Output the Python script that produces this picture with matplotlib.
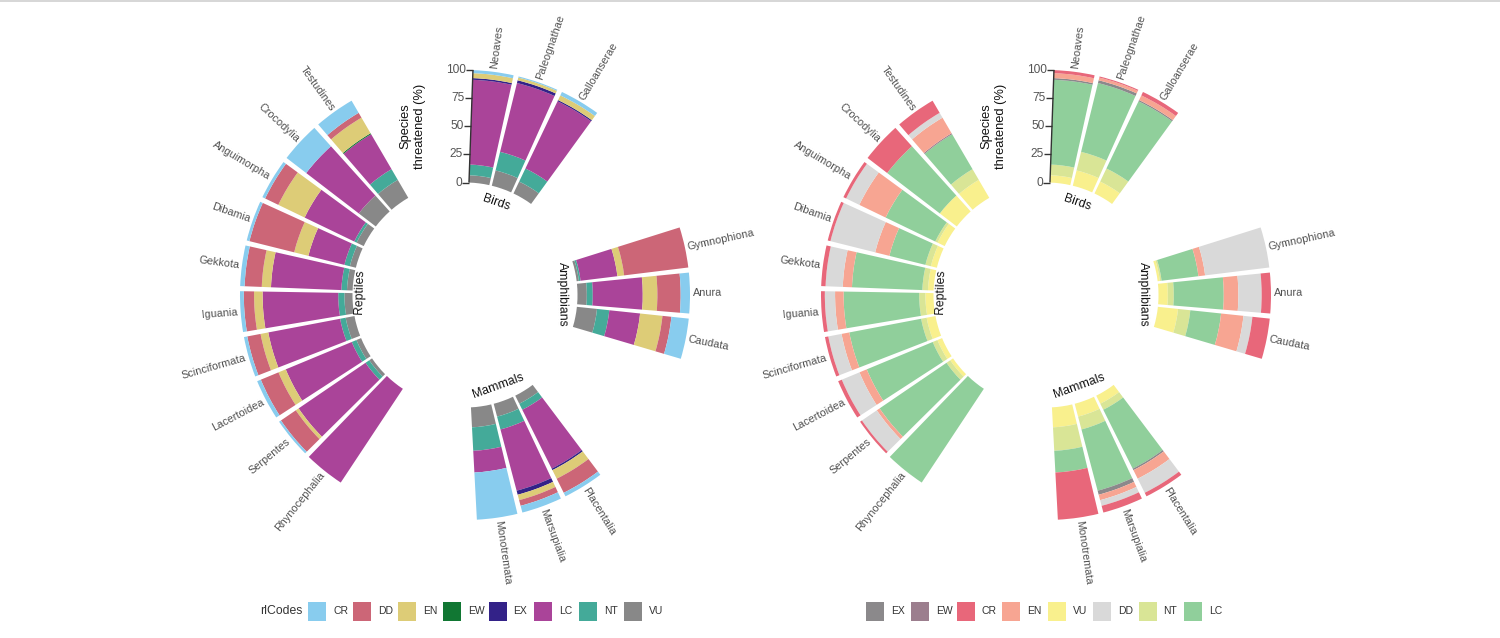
import numpy as np
import matplotlib
matplotlib.use('Agg')
import matplotlib.pyplot as plt
from matplotlib.patches import Rectangle
from matplotlib.lines import Line2D

plt.rcParams['font.family'] = ['Liberation Sans', 'DejaVu Sans']

# ---------------- data ----------------
groups = ['Birds', 'Amphibians', 'Mammals', 'Reptiles']
group_sizes = [3, 3, 3, 10]
taxa = ['Neoaves', 'Paleognathae', 'Galloanserae',
        'Gymnophiona', 'Anura', 'Caudata',
        'Placentalia', 'Marsupialia', 'Monotremata',
        'Rhynocephalia', 'Serpentes', 'Lacertoidea', 'Scinciformata', 'Iguania',
        'Gekkota', 'Dibamia', 'Anguimorpha', 'Crocodylia', 'Testudines']

# percent of species per Red List code (stacked inner -> outer)
VU = [6.5, 14, 11.7, 2, 8.3, 18, 8, 11.8, 17.8, 0, 3, 4.5, 8, 7.2, 5, 5.5, 7, 19, 18.5]
NT = [9.5, 17, 12.9, 1.5, 5.3, 11, 6, 11.8, 20.9, 0, 4, 4.5, 5, 5.5, 5, 5, 2.3, 0, 11]
LC = [75.4, 63, 66.2, 33, 44.4, 27.5, 58.5, 56.3, 19.3, 100, 72, 63.5, 65, 67.2, 62.6, 33, 49, 59, 36]
EX = [1.5, 2.5, 1.2, 0, 0, 0, 1.5, 3.7, 0, 0, 0, 0, 0, 0, 0, 0, 0, 0, 0]
EW = [0, 0, 0, 0, 0, 0, 0, 0, 0, 0, 0, 0, 0, 0, 0, 0, 0, 0, 1]
EN = [4.4, 2.5, 4.6, 6, 13, 20, 8.5, 5, 0, 0, 3, 7, 7, 7.6, 8.2, 13, 26, 0, 16]
DD = [0, 0, 0, 57.5, 20.7, 8, 14, 5.2, 0, 0, 16, 17, 12, 9.1, 15.3, 41, 13, 0, 5]
CR = [2.7, 1, 3.4, 0, 8.3, 15.5, 3.5, 6.2, 42, 0, 2, 3.5, 3, 3.4, 3.9, 2.5, 2.7, 22, 12.5]

stack_codes = ['VU', 'NT', 'LC', 'EX', 'EW', 'EN', 'DD', 'CR']
series = {'VU': VU, 'NT': NT, 'LC': LC, 'EX': EX, 'EW': EW, 'EN': EN, 'DD': DD, 'CR': CR}

left_legend = ['CR', 'DD', 'EN', 'EW', 'EX', 'LC', 'NT', 'VU']
right_legend = ['EX', 'EW', 'CR', 'EN', 'VU', 'DD', 'NT', 'LC']
pal_left = {'CR': '#88CCEE', 'DD': '#CC6677', 'EN': '#DDCC77', 'EW': '#117733',
            'EX': '#332288', 'LC': '#AA4499', 'NT': '#44AA99', 'VU': '#888888'}
pal_right = {'EX': '#8B898B', 'EW': '#9C7E8E', 'CR': '#E8677A', 'EN': '#F7A592',
             'VU': '#F9F08D', 'DD': '#D9D9D9', 'NT': '#D9E596', 'LC': '#90CF9B'}
axis_ticks = [0, 25, 50, 75, 100]

# ---------------- layout ----------------
W, H = 1500, 638
R_PX = 225
STEP = np.radians(11.75)
START = np.radians(1.375)
GAP = np.radians(1.3)
GROUP_PAD = 3

fig = plt.figure(figsize=(W / 100, H / 100), dpi=100)
fig.patch.set_facecolor('white')

# slot index of each taxon
slots = []
grp_of = []
k = 0
for gi, n in enumerate(group_sizes):
    for j in range(n):
        slots.append(k)
        grp_of.append(gi)
        k += 1
    k += GROUP_PAD
slots = np.array(slots)
grp_of = np.array(grp_of)
theta = START + (slots + 0.5) * STEP


def draw_panel(cx, cy, pal):
    ax = fig.add_axes([(cx - R_PX) / W, (H - cy - R_PX) / H, 2 * R_PX / W, 2 * R_PX / H],
                      projection='polar')
    ax.set_theta_zero_location('N')
    ax.set_theta_direction(-1)
    ax.set_ylim(0, 100)
    ax.set_rorigin(-100)
    ax.axis('off')

    bottom = np.zeros(len(taxa))
    for code in stack_codes:
        vals = np.array(series[code], dtype=float)
        ax.bar(theta, vals, width=STEP - GAP, bottom=bottom, color=pal[code],
               edgecolor='none', linewidth=0, align='center', clip_on=False)
        bottom += vals

    # taxon labels
    for t, name in zip(theta, taxa):
        deg = np.degrees(t)
        if deg < 180:
            rot, ha = 90 - deg, 'left'
        else:
            rot, ha = 270 - deg, 'right'
        ax.text(t, 102.5, name, rotation=rot, rotation_mode='anchor', ha=ha, va='center',
                fontsize=7.8, color='#505050')

    # group labels
    for gi, g in enumerate(groups):
        t = theta[grp_of == gi].mean()
        deg = np.degrees(t)
        rot = -deg
        while rot <= -90:
            rot += 180
        while rot > 90:
            rot -= 180
        r = -13.7 if deg < 180 else -6.6
        ax.text(t, r, g, rotation=rot, rotation_mode='anchor', ha='center', va='center',
                fontsize=8.8, color='#111111')

    # radial axis on the first bar
    ta = START + GAP / 2
    ax.plot([ta, ta], [0, 100], color='#333333', lw=1, clip_on=False, solid_capstyle='butt')
    ax.plot([ta] * len(axis_ticks), axis_ticks, linestyle='none', marker=0, markersize=5,
            markeredgewidth=1, color='#333333', clip_on=False)
    for v in axis_ticks:
        ax.annotate(str(v), (ta, v), xytext=(-7, 0), textcoords='offset pixels',
                    ha='right', va='center', fontsize=8.6, color='#555555')
    ax.annotate('Species\nthreatened (%)', (ta, 50), xytext=(-58, 0), textcoords='offset pixels',
                ha='center', va='center', rotation=90, fontsize=9.3, color='#111111',
                linespacing=1.3, multialignment='center')
    return ax


draw_panel(465, 295, pal_left)
draw_panel(1046, 295, pal_right)

# ---------------- legends ----------------
LEG_Y = 611.5
BOX_W, BOX_H = 18, 19


def draw_legend(x0, step, codes, pal, title=None, title_x=None):
    if title:
        fig.text(title_x / W, 1 - LEG_Y / H, title, ha='left', va='center',
                 fontsize=8.8, color='#333333')
    for i, c in enumerate(codes):
        x = x0 + i * step
        fig.add_artist(Rectangle((x / W, 1 - (LEG_Y + BOX_H / 2) / H), BOX_W / W, BOX_H / H,
                                 transform=fig.transFigure, facecolor=pal[c], edgecolor='none'))
        fig.text((x + 25) / W, 1 - LEG_Y / H, c, ha='left', va='center',
                 fontsize=7.5, color='#333333')


draw_legend(308, 45.14, left_legend, pal_left, title='rlCodes', title_x=260)
draw_legend(866, 45.43, right_legend, pal_right)

fig.add_artist(Line2D([0, 1], [1 - 0.8 / H, 1 - 0.8 / H], transform=fig.transFigure,
                      color='#cfcfcf', lw=1.2))

fig.savefig('out.png', dpi=100, facecolor='white')
